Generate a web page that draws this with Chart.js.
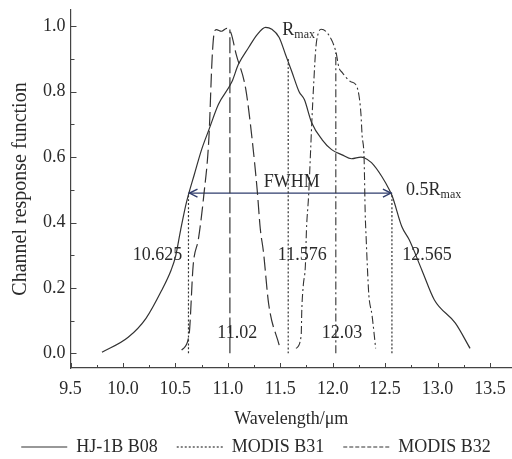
<!DOCTYPE html>
<html>
<head>
<meta charset="utf-8">
<script src="https://cdn.jsdelivr.net/npm/chart.js@4.4.1/dist/chart.umd.min.js"></script>
<style>
  html, body { margin: 0; padding: 0; background: #fff; }
</style>
</head>
<body>
<canvas id="srfChart" width="512" height="459"></canvas>
<script>
// Spectral response curves (wavelength in um)
const hjWave = [9.8, 10.05, 10.22, 10.37, 10.46, 10.5, 10.55, 10.6, 10.63, 10.68, 10.75, 10.82, 10.91, 11.04, 11.1, 11.2, 11.28, 11.36, 11.42, 11.49, 11.55, 11.61, 11.68, 11.73, 11.8, 11.9, 11.99, 12.09, 12.18, 12.27, 12.3, 12.37, 12.47, 12.54, 12.57, 12.66, 12.73, 12.85, 12.97, 13.17, 13.31];
const hjResp = [0.003, 0.049, 0.107, 0.193, 0.255, 0.294, 0.377, 0.454, 0.491, 0.546, 0.623, 0.684, 0.761, 0.831, 0.883, 0.936, 0.975, 0.997, 0.991, 0.966, 0.914, 0.862, 0.80, 0.776, 0.705, 0.653, 0.623, 0.607, 0.595, 0.60, 0.598, 0.583, 0.54, 0.5, 0.479, 0.387, 0.347, 0.255, 0.163, 0.092, 0.015];

const b31Wave = [10.56, 10.63, 10.67, 10.72, 10.77, 10.82, 10.85, 10.87, 10.89, 10.94, 10.99, 11.03, 11.08, 11.17, 11.23, 11.28, 11.31, 11.34, 11.39, 11.49];
const b31Resp = [0.01, 0.055, 0.27, 0.35, 0.48, 0.66, 0.9, 0.98, 0.99, 0.985, 0.994, 0.98, 0.914, 0.81, 0.66, 0.5, 0.38, 0.31, 0.15, 0.025];

const b32Wave = [11.65, 11.70, 11.705, 11.72, 11.74, 11.75, 11.77, 11.79, 11.80, 11.82, 11.84, 11.87, 11.89, 11.96, 12.03, 12.06, 12.09, 12.17, 12.22, 12.25, 12.27, 12.28, 12.30, 12.31, 12.32, 12.33, 12.345, 12.375, 12.41];
const b32Resp = [0.015, 0.055, 0.126, 0.209, 0.27, 0.377, 0.479, 0.623, 0.70, 0.83, 0.936, 0.985, 0.991, 0.975, 0.923, 0.874, 0.859, 0.831, 0.822, 0.79, 0.73, 0.669, 0.592, 0.43, 0.347, 0.27, 0.178, 0.117, 0.015];

const seriesNames = ['HJ-1B B08', 'MODIS B31', 'MODIS B32'];

// FWHM edges of HJ-1B B08 and MODIS centre wavelengths
const fwhmEdges = [10.625, 11.576, 12.565];
const fwhmTops = [0.49, 0.90, 0.49];
const halfMax = 0.49;
const centerWaves = [11.02, 12.03];
const centerTops = [0.99, 0.92];

// annotation texts and where they sit (data units)
const noteText = ['10.625', '11.576', '12.565', '11.02', '12.03', 'FWHM'];
const noteX = [10.33, 11.71, 12.90, 11.09, 12.09, 11.61];
const noteY = [0.30, 0.30, 0.30, 0.061, 0.061, 0.523];

const xMin = 9.5, xMax = 13.71;
const yMin = -0.045, yMax = 1.05;

const serif = '"Liberation Serif", "Times New Roman", serif';
const ink = '#2a2a2a';
const lineInk = '#333333';
const arrowInk = '#2f3c6c';

const toPoints = (xs, ys) => xs.map((x, i) => ({x: x, y: ys[i]}));

const datasets = [
  { label: seriesNames[0], data: toPoints(hjWave, hjResp), borderColor: lineInk, borderWidth: 1.2, borderDash: [] },
  { label: seriesNames[1], data: toPoints(b31Wave, b31Resp), borderColor: lineInk, borderWidth: 1.2, borderDash: [14, 5] },
  { label: seriesNames[2], data: toPoints(b32Wave, b32Resp), borderColor: lineInk, borderWidth: 1.1, borderDash: [8, 3, 2, 3] }
];
fwhmEdges.forEach((x, i) => {
  datasets.push({ label: 'edge', data: [{x: x, y: 0}, {x: x, y: fwhmTops[i]}], borderColor: lineInk, borderWidth: 1.2, borderDash: [2, 2] });
});
datasets.push({ label: 'centre', data: [{x: centerWaves[0], y: 0}, {x: centerWaves[0], y: centerTops[0]}], borderColor: lineInk, borderWidth: 1.2, borderDash: [16, 4] });
datasets.push({ label: 'centre', data: [{x: centerWaves[1], y: 0}, {x: centerWaves[1], y: centerTops[1]}], borderColor: lineInk, borderWidth: 1.1, borderDash: [8, 3, 2, 3] });
datasets.push({ label: 'fwhm', data: [{x: fwhmEdges[0], y: halfMax}, {x: fwhmEdges[2], y: halfMax}], borderColor: arrowInk, borderWidth: 1.4 });

// legend samples in the figure: solid, dotted, fine dashes
const legendDash = [[], [2, 2], [4, 2]];

const isMultiple = (v, step) => Math.abs(v / step - Math.round(v / step)) < 1e-6;

// tick marks pointing into the plot, short ones for the minor steps
const inwardTicks = {
  id: 'inwardTicks',
  afterDraw(chart) {
    const {ctx, chartArea, scales} = chart;
    ctx.save();
    ctx.strokeStyle = '#444';
    ctx.lineWidth = 1;
    scales.x.ticks.forEach(t => {
      if (!isMultiple(t.value, 0.25)) return;
      const px = Math.round(scales.x.getPixelForValue(t.value)) + 0.5;
      const len = isMultiple(t.value, 0.5) ? 5 : 3;
      ctx.beginPath();
      ctx.moveTo(px, chartArea.bottom);
      ctx.lineTo(px, chartArea.bottom - len);
      ctx.stroke();
    });
    scales.y.ticks.forEach(t => {
      if (!isMultiple(t.value, 0.1) || t.value < -1e-9) return;
      const py = Math.round(scales.y.getPixelForValue(t.value)) + 0.5;
      const len = isMultiple(t.value, 0.2) ? 6 : 4;
      ctx.beginPath();
      ctx.moveTo(chartArea.left, py);
      ctx.lineTo(chartArea.left + len, py);
      ctx.stroke();
    });
    ctx.restore();
  }
};

function drawSub(ctx, x, y, main, sub) {
  ctx.textAlign = 'left';
  ctx.textBaseline = 'middle';
  ctx.font = '18px ' + serif;
  ctx.fillText(main, x, y);
  const w = ctx.measureText(main).width;
  ctx.font = '12px ' + serif;
  ctx.fillText(sub, x + w, y + 5);
}

const notes = {
  id: 'notes',
  afterDatasetsDraw(chart) {
    const {ctx, scales} = chart;
    const xs = scales.x, ys = scales.y;
    ctx.save();
    // arrow heads of the FWHM bar
    const yA = ys.getPixelForValue(halfMax);
    const xL = xs.getPixelForValue(fwhmEdges[0]);
    const xR = xs.getPixelForValue(fwhmEdges[2]);
    ctx.strokeStyle = arrowInk;
    ctx.lineWidth = 1.4;
    ctx.beginPath();
    ctx.moveTo(xL + 9, yA - 4); ctx.lineTo(xL + 1, yA); ctx.lineTo(xL + 9, yA + 4);
    ctx.moveTo(xR - 9, yA - 4); ctx.lineTo(xR - 1, yA); ctx.lineTo(xR - 9, yA + 4);
    ctx.stroke();

    ctx.fillStyle = ink;
    ctx.font = '18px ' + serif;
    ctx.textAlign = 'center';
    ctx.textBaseline = 'middle';
    noteText.forEach((txt, i) => {
      ctx.fillText(txt, xs.getPixelForValue(noteX[i]), ys.getPixelForValue(noteY[i]));
    });
    drawSub(ctx, xs.getPixelForValue(11.52), ys.getPixelForValue(0.988), 'R', 'max');
    drawSub(ctx, xs.getPixelForValue(12.70), ys.getPixelForValue(0.50), '0.5R', 'max');
    ctx.restore();
  }
};

const config = {
  type: 'line',
  data: { datasets: datasets },
  options: {
    responsive: false,
    animation: false,
    cubicInterpolationMode: 'monotone',
    elements: { point: { radius: 0 }, line: { fill: false } },
    layout: { padding: { top: 10, left: 0, right: 0, bottom: -7 } },
    scales: {
      x: {
        type: 'linear',
        min: xMin,
        max: xMax,
        afterFit: s => { s.paddingRight = 0; },
        grid: { display: true, drawOnChartArea: false, drawTicks: false },
        border: { display: true, color: '#444', width: 1.2 },
        ticks: {
          stepSize: 0.25,
          includeBounds: false,
          autoSkip: false,
          maxRotation: 0,
          padding: 14,
          color: ink,
          font: { family: serif, size: 18, lineHeight: 0.8 },
          callback: v => isMultiple(v, 0.5) ? v.toFixed(1) : ''
        },
        title: {
          display: true,
          text: 'Wavelength/\u03bcm',
          color: ink,
          font: { family: serif, size: 18, lineHeight: 0.2 },
          padding: { top: 7, bottom: -2 }
        }
      },
      y: {
        type: 'linear',
        min: yMin,
        max: yMax,
        afterFit: s => { s.paddingTop = 0; },
        grid: { display: true, drawOnChartArea: false, drawTicks: false },
        border: { display: true, color: '#444', width: 1.2 },
        ticks: {
          stepSize: 0.1,
          includeBounds: false,
          autoSkip: false,
          padding: 5,
          color: ink,
          font: { family: serif, size: 18 },
          callback: v => (v > -1e-9 && isMultiple(v, 0.2)) ? Math.abs(v).toFixed(1) : ''
        },
        title: {
          display: true,
          text: 'Channel response function',
          color: ink,
          font: { family: serif, size: 20 },
          padding: { top: 9, bottom: 5 }
        }
      }
    },
    plugins: {
      tooltip: { enabled: false },
      legend: {
        position: 'bottom',
        labels: {
          usePointStyle: true,
          pointStyle: 'line',
          pointStyleWidth: 46,
          padding: 19,
          color: ink,
          font: { family: serif, size: 18 },
          generateLabels(chart) {
            const items = Chart.defaults.plugins.legend.labels.generateLabels(chart);
            return items.filter(it => it.datasetIndex < 3).map(it => {
              it.lineDash = legendDash[it.datasetIndex];
              it.pointStyle = 'line';
              return it;
            });
          }
        }
      }
    }
  },
  plugins: [inwardTicks, notes]
};

const ctx = document.getElementById('srfChart').getContext('2d');
const srfChart = new Chart(ctx, config);
</script>
</body>
</html>
